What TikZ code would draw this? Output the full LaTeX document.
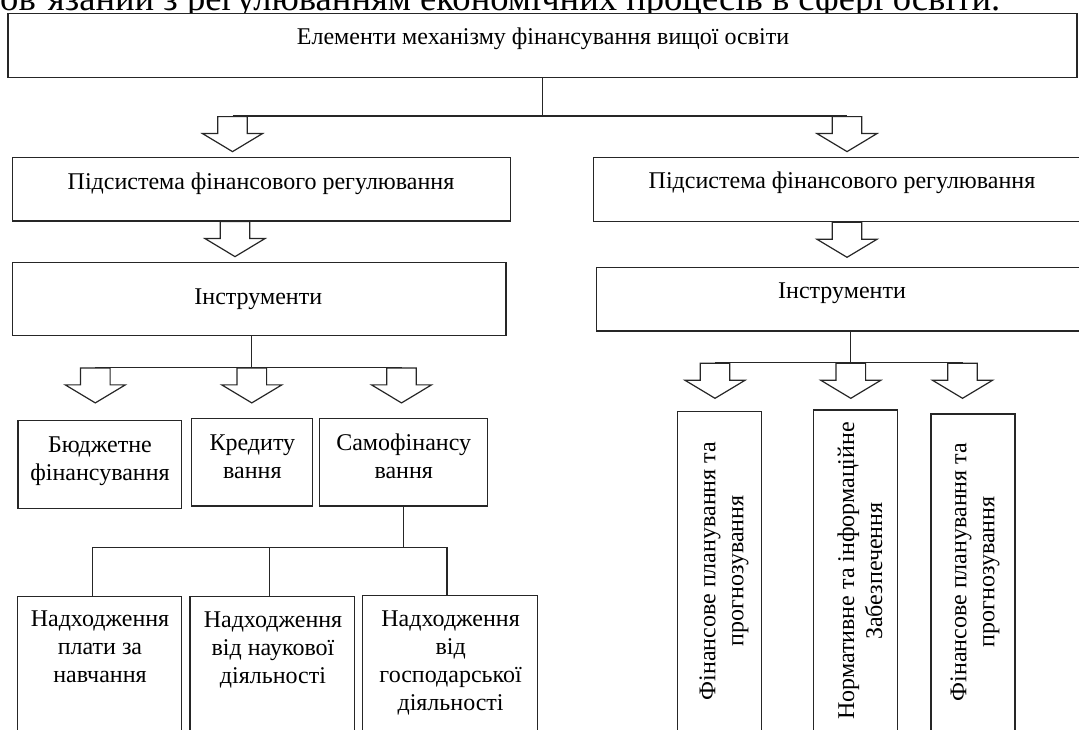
\documentclass[tikz,border=0pt]{standalone}
\usepackage{fontspec}
\setmainfont{Liberation Serif}
\usetikzlibrary{shapes.arrows}

\begin{document}
\begin{tikzpicture}[
  x=0.5pt, y=-0.5pt,
  line width=0.6pt,
  blk/.style 2 args={
    rectangle, draw=black!85, fill=white,
    minimum width=#1, minimum height=#2, inner sep=0pt
  },
  txt/.style={font=\fontsize{12}{14}\selectfont, align=center, inner sep=0pt},
  harrow/.style={
    single arrow, draw=black!85, fill=white, rotate=-90, anchor=tail,
    minimum height=17.5pt, inner xsep=0pt, inner ysep=7.1pt,
    single arrow head extend=7.6pt, single arrow tip angle=118
  },
  link/.style={draw=black!85}
]
  \clip (0,0) rectangle (1079,729);

  % line of the page text, cut at the top
  \node[font=\fontsize{18.3}{21}\selectfont, anchor=base east, inner sep=0pt] (cap) at (1001,10)
    {пов'язаний з регулюванням економічних процесів в сфері освіти.};

  % boxes
  \node[blk={534.5pt}{32pt}] (top) at (542.5,45.3) {};
  \node[blk={249.1pt}{31.85pt}] (subL) at (261.6,189.2) {};
  \node[blk={248.35pt}{32pt}] (subR) at (841.65,189.2) {};
  \node[blk={246.75pt}{36.4pt}] (instL) at (259.3,299.1) {};
  \node[blk={246.75pt}{31.85pt}] (instR) at (843.25,299.15) {};

  \node[blk={81.95pt}{43.8pt}] (budget) at (99.9,464.5) {};
  \node[blk={60.3pt}{43.85pt}] (credit) at (252.1,462.2) {};
  \node[blk={83.85pt}{43.85pt}] (selffin) at (403.5,462.2) {};

  \node[blk={82.15pt}{80pt}, anchor=north] (inc1) at (99.35,595.7) {};
  \node[blk={82.35pt}{80pt}, anchor=north] (inc2) at (272.35,595.7) {};
  \node[blk={87.3pt}{80pt}, anchor=north] (inc3) at (449.9,595) {};

  \node[blk={42.2pt}{170pt}, anchor=north] (plan1) at (719.5,411) {};
  \node[blk={42.2pt}{170pt}, anchor=north] (norm) at (855.5,409.3) {};
  \node[blk={42pt}{170pt}, anchor=north] (plan2) at (973,413.3) {};

  % hollow arrows
  \node[harrow] (aL) at (232.5,116) {};
  \node[harrow] (aR) at (847,116) {};
  \node[harrow] (sL) at (235,221) {};
  \node[harrow] (sR) at (847,221.7) {};
  \node[harrow] (iL1) at (95.3,367.3) {};
  \node[harrow] (iL2) at (251.8,367.3) {};
  \node[harrow] (iL3) at (401.5,367.3) {};
  \node[harrow] (iR1) at (715,362.7) {};
  \node[harrow] (iR2) at (850.8,362.7) {};
  \node[harrow] (iR3) at (962.5,362.7) {};

  % connectors
  \draw[link] (top.south) -- (top.south |- aL.tail);
  \draw[link] (aL.tail) -- (aR.tail);
  \draw[link] (iL2.tail |- instL.south) -- (iL2.tail);
  \draw[link] (iL1.tail) -- (iL3.tail);
  \draw[link] (iR2.tail |- instR.south) -- (iR2.tail);
  \draw[link] (iR1.tail) -- (iR3.tail);

  \coordinate (bus) at (0,547.7);
  \draw[link] (selffin.south) -- (selffin.south |- bus);
  \draw[link] ([xshift=-3.5pt]inc1.north) |- ([xshift=-1.45pt]inc3.north |- bus)
    -- ([xshift=-1.45pt]inc3.north);
  \draw[link] ([xshift=-1.3pt]inc2.north) -- ([xshift=-1.3pt]inc2.north |- bus);

  % texts (base = last line)
  \node[txt, anchor=base] (top-t) at (543,44) {Елементи механізму фінансування вищої освіти};
  \node[txt, anchor=base] (subL-t) at (261,189) {Підсистема фінансового регулювання};
  \node[txt, anchor=base] (subR-t) at (842,188.5) {Підсистема фінансового регулювання};
  \node[txt, anchor=base] (instL-t) at (258.3,304) {Інструменти};
  \node[txt, anchor=base] (instR-t) at (842,298.3) {Інструменти};

  \node[txt, anchor=base] (budget-t) at (100,480.7) {Бюджетне\\фінансування};
  \node[txt, anchor=base] (credit-t) at (252.4,478.3) {Кредиту\\вання};
  \node[txt, anchor=base] (selffin-t) at (403.7,478.3) {Самофінансу\\вання};

  \node[txt, anchor=base] (inc1-t) at (100,682.7) {Надходження\\плати за\\навчання};
  \node[txt, anchor=base] (inc2-t) at (273,683) {Надходження\\від наукової\\діяльності};
  \node[txt, anchor=base] (inc3-t) at (450.6,710) {Надходження\\від\\господарської\\діяльності};

  \node[txt, rotate=90] (plan1-t) at (724,571) {Фінансове планування та\\прогнозування};
  \node[txt, rotate=90] (norm-t) at (860,571) {Нормативне та інформаційне\\Забезпечення};
  \node[txt, rotate=90] (plan2-t) at (975,572) {Фінансове планування та\\прогнозування};
\end{tikzpicture}
\end{document}
